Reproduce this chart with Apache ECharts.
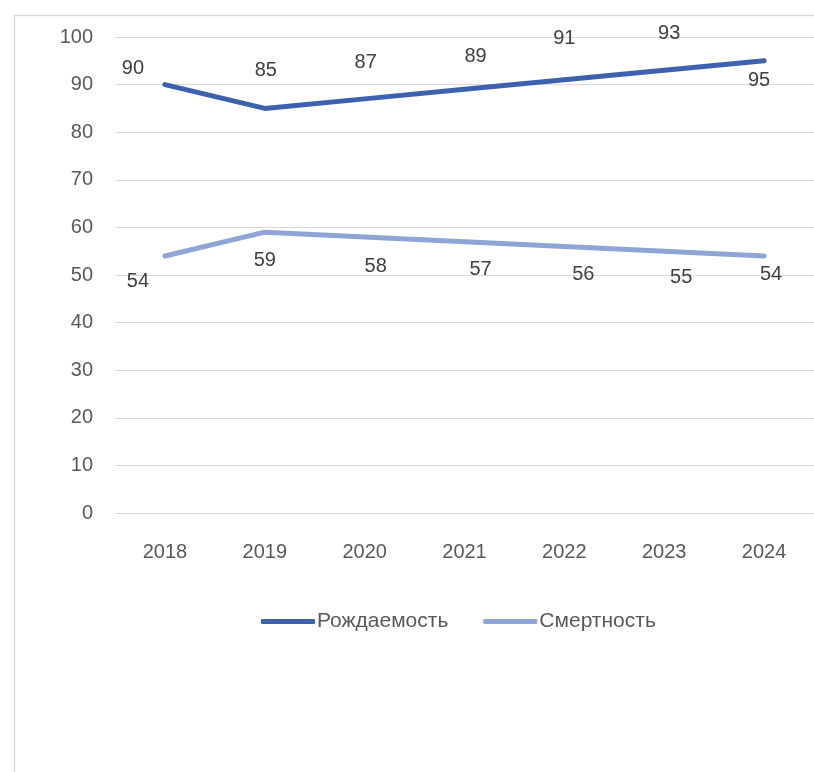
<!DOCTYPE html>
<html><head><meta charset="utf-8">
<script src="https://cdn.jsdelivr.net/npm/echarts@6/dist/echarts.min.js"></script>
<style>html,body{margin:0;padding:0;background:#fff}#c{width:814px;height:772px}</style>
</head><body><div id="c"></div>
<script>
const categories = ['2018','2019','2020','2021','2022','2023','2024'];
const birthName = 'Рождаемость';
const deathName = 'Смертность';
const birthValues = [90, 85, 87, 89, 91, 93, 95];
const deathValues = [54, 59, 58, 57, 56, 55, 54];
const yTicks = {min: 0, max: 100, interval: 10};

// label offsets (pixels) relative to each point, matching the reference placement
const birthLabelOffsets = [[-32,-16],[1,-38],[1,-36],[11,-33],[0,-41],[5,-37],[-5,20]];
const deathLabelOffsets = [[-27,26],[0,28],[11,30],[16,28],[19,28],[17,26],[7,19]];

const FONT = 'Liberation Sans, Noto Sans, sans-serif';
function withLabels(vals, offs) {
  return vals.map((v, i) => ({value: v, label: {offset: offs[i]}}));
}
const chart = echarts.init(document.getElementById('c'), null, {renderer: 'canvas'});
chart.setOption({
  animation: false,
  backgroundColor: '#fff',
  graphic: [{type: 'rect', left: 12, top: 13, shape: {width: 900, height: 900},
    style: {fill: 'none', stroke: '#d9d9d9', lineWidth: 1.5}, silent: true, z: -1}],
  grid: {left: 115, top: 37, width: 703, height: 476, containLabel: false},
  legend: {
    left: 256, top: 606, itemWidth: 54, itemHeight: 5, itemGap: 35, icon: 'roundRect',
    textStyle: {fontFamily: FONT, fontSize: 21, color: '#595959', padding: [0,0,0,-3]},
    data: [birthName, deathName]
  },
  xAxis: {
    type: 'category', data: categories, boundaryGap: true,
    axisLine: {lineStyle: {color: '#d9d9d9', width: 1}},
    axisTick: {show: false},
    axisLabel: {fontFamily: FONT, fontSize: 20, color: '#595959', margin: 29}
  },
  yAxis: {
    type: 'value', min: yTicks.min, max: yTicks.max, interval: yTicks.interval,
    axisLine: {show: false}, axisTick: {show: false},
    splitLine: {lineStyle: {color: '#d9d9d9', width: 1}},
    axisLabel: {fontFamily: FONT, fontSize: 20, color: '#595959', margin: 22}
  },
  series: [
    {name: birthName, type: 'line', data: withLabels(birthValues, birthLabelOffsets),
     symbol: 'circle', symbolSize: 2, showSymbol: true,
     lineStyle: {color: '#3c62af', width: 5, cap: 'round', join: 'round'},
     itemStyle: {color: '#3c62af'},
     label: {show: true, position: 'inside', fontFamily: FONT, fontSize: 20, color: '#404040'}},
    {name: deathName, type: 'line', data: withLabels(deathValues, deathLabelOffsets),
     symbol: 'circle', symbolSize: 2, showSymbol: true,
     lineStyle: {color: '#8ea5d6', width: 5, cap: 'round', join: 'round'},
     itemStyle: {color: '#8ea5d6'},
     label: {show: true, position: 'inside', fontFamily: FONT, fontSize: 20, color: '#404040'}}
  ]
});
</script></body></html>
